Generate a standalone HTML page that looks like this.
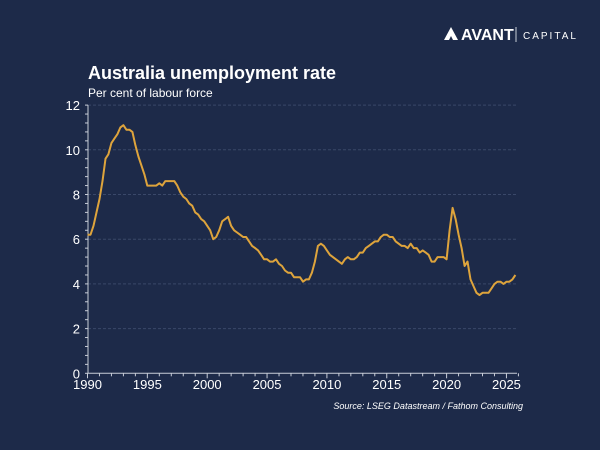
<!DOCTYPE html>
<html><head><meta charset="utf-8"><style>
html,body{margin:0;padding:0;background:#1d2a49;}
svg{display:block;font-family:"Liberation Sans",Arial,sans-serif;}
</style></head><body>
<svg width="600" height="450" viewBox="0 0 600 450" xmlns="http://www.w3.org/2000/svg">
<rect width="600" height="450" fill="#1d2a49"/>
<g>
<path d="M444 40 L451 27 L458 40 L453 40 L451 36 L449 40 Z" fill="#fff"/>
<text x="461" y="40" fill="#fff" font-size="16" font-weight="bold">AVANT</text>
<line x1="516" y1="27" x2="516" y2="42" stroke="#c8cdd8" stroke-width="1"/>
<text x="523" y="39" fill="#fff" font-size="10" letter-spacing="2">CAPITAL</text>
</g>
<text x="88" y="79" fill="#fff" font-size="18" font-weight="bold">Australia unemployment rate</text>
<text x="88" y="97" fill="#fff" font-size="12">Per cent of labour force</text>
<g id="grid"></g>
<g id="axes"></g>
<path id="line" fill="none" stroke="#dea43c" stroke-width="2" stroke-linejoin="round"/>
<text x="523" y="409" fill="#fff" font-size="9" font-style="italic" text-anchor="end">Source: LSEG Datastream / Fathom Consulting</text>
</svg>
<script>
const startYear = 1990;
const stepYears = 0.25;
const rates = [6.2,6.2,6.6,7.2,7.8,8.6,9.6,9.8,10.3,10.5,10.7,11.0,11.1,10.9,10.9,10.8,10.2,9.7,9.3,8.9,
8.4,8.4,8.4,8.4,8.5,8.4,8.6,8.6,8.6,8.6,8.4,8.1,7.9,7.8,7.6,7.5,7.2,7.1,6.9,6.8,
6.6,6.4,6.0,6.1,6.4,6.8,6.9,7.0,6.6,6.4,6.3,6.2,6.1,6.1,5.9,5.7,5.6,5.5,5.3,5.1,
5.1,5.0,5.0,5.1,4.9,4.8,4.6,4.5,4.5,4.3,4.3,4.3,4.1,4.2,4.2,4.5,5.0,5.7,5.8,5.7,
5.5,5.3,5.2,5.1,5.0,4.9,5.1,5.2,5.1,5.1,5.2,5.4,5.4,5.6,5.7,5.8,5.9,5.9,6.1,6.2,
6.2,6.1,6.1,5.9,5.8,5.7,5.7,5.6,5.8,5.6,5.6,5.4,5.5,5.4,5.3,5.0,5.0,5.2,5.2,5.2,
5.1,6.4,7.4,6.9,6.2,5.6,4.8,5.0,4.2,3.9,3.6,3.5,3.6,3.6,3.6,3.8,4.0,4.1,4.1,4.0,
4.1,4.1,4.2,4.4];
const yTicks = [0,2,4,6,8,10,12];
const xTicks = [1990,1995,2000,2005,2010,2015,2020,2025];
const NS="http://www.w3.org/2000/svg";
const X = yr => 87.5 + (yr-1990)*11.97;
const Y = v => 373.3 - v*22.35;
const grid=document.getElementById('grid'), axes=document.getElementById('axes');
function mk(tag,attrs,parent){const e=document.createElementNS(NS,tag);for(const k in attrs)e.setAttribute(k,attrs[k]);parent.appendChild(e);return e;}
yTicks.forEach(v=>{
  if(v>0){const g=mk('line',{x1:88,x2:518,y1:Y(v),y2:Y(v),stroke:'#3a4869','stroke-width':1,'stroke-dasharray':'3,2'},grid);
  
  }
  const t=mk('text',{x:80,y:Y(v)+5,fill:'#fff','font-size':13,'text-anchor':'end'},axes);
  t.textContent=v;
  
  
});
for(let v=0;v<=12.001;v+=0.4){mk('line',{x1:85,x2:88,y1:Y(v),y2:Y(v),stroke:'#c8cdd8','stroke-width':1},axes);}
mk('line',{x1:88,x2:88,y1:Y(12),y2:Y(0),stroke:'#c8cdd8','stroke-width':1},axes);
mk('line',{x1:88,x2:517,y1:Y(0),y2:Y(0),stroke:'#c8cdd8','stroke-width':1},axes);
for(let yr=1990;yr<=2026;yr++){mk('line',{x1:X(yr),x2:X(yr),y1:Y(0),y2:Y(0)+(yr%5===0?5:3),stroke:'#c8cdd8','stroke-width':1},axes);}
xTicks.forEach(yr=>{
  const t=mk('text',{x:X(yr),y:389,fill:'#fff','font-size':13,'text-anchor':'middle'},axes);
  t.textContent=yr;
  
  
});
document.getElementById('line').setAttribute('d',rates.map((v,i)=>(i?'L':'M')+X(startYear+i*stepYears).toFixed(1)+' '+Y(v).toFixed(1)).join(' '));
</script>
</body></html>
